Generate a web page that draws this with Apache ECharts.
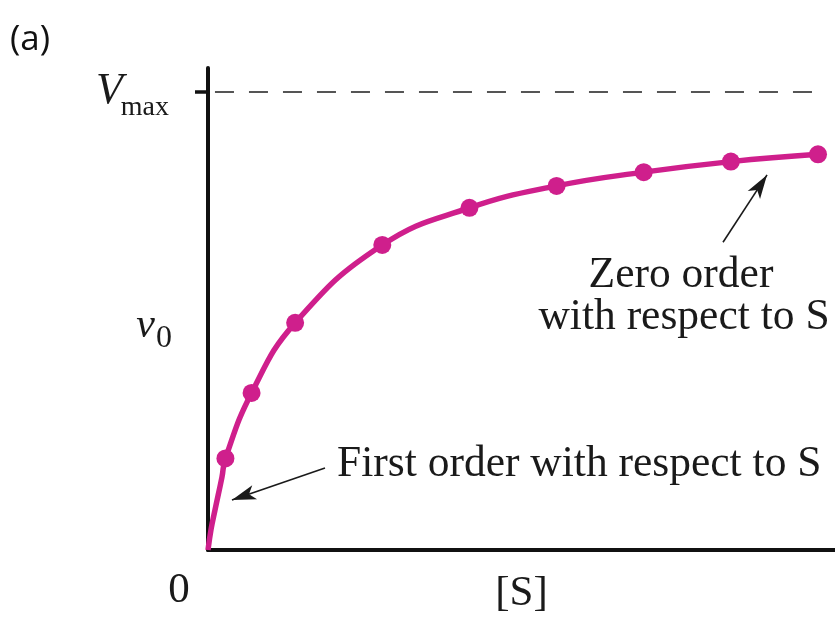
<!DOCTYPE html>
<html><head><meta charset="utf-8">
<script src="https://cdn.jsdelivr.net/npm/echarts@6/dist/echarts.min.js"></script>
<style>html,body{margin:0;padding:0;background:#fff}#c{width:835px;height:618px}</style>
</head><body><div id="c"></div>
<script>
// Data (S in arbitrary units, v as a fraction of Vmax)
const substrate = [0.4, 1, 2, 4, 6, 8, 10, 12, 14];
const velocity  = [0.200, 0.343, 0.496, 0.666, 0.747, 0.795, 0.825, 0.848, 0.864];
// extra points traced on the curve near the origin
const curveS = [0, 0.07, 0.16, 0.32];
const curveV = [0, 0.045, 0.087, 0.159];
const vmaxValue = 1;
const v0Level = 0.48;
const xLabelText = '[S]';
const originLabel = '0';
const panelLabel = '(a)';
const firstOrderText = 'First order with respect to S';
const zeroOrderLines = ['Zero order', 'with respect to S'];
// arrows (tail -> head) in data coordinates
const firstArrow = [[2.685, 0.179], [0.55, 0.109]];
const zeroArrow = [[11.82, 0.672], [12.83, 0.819]];

const SERIF = 'Liberation Serif';
const INK = '#1a1a1a';
const MAG = '#cf1f8c';

const curveData = curveS.map((s, i) => [s, curveV[i]])
  .concat(substrate.map((s, i) => [s, velocity[i]]));
const pointData = substrate.map((s, i) => [s, velocity[i]]);

const chart = echarts.init(document.getElementById('c'), null, {renderer: 'canvas'});
const option = {
  animation: false,
  backgroundColor: '#fff',
  grid: {left: 208, right: 0, top: 68, bottom: 68, containLabel: false, outerBoundsMode: 'none'},
  xAxis: {
    type: 'value', min: 0, max: 14.39,
    axisLine: {show: true, lineStyle: {color: '#111', width: 4}},
    axisTick: {show: false}, axisLabel: {show: false}, splitLine: {show: false},
    name: xLabelText, nameLocation: 'middle', nameGap: 22,
    nameTextStyle: {fontFamily: SERIF, fontSize: 43, color: INK}
  },
  yAxis: {
    type: 'value', min: 0, max: 1.0524,
    axisLine: {show: true, lineStyle: {color: '#111', width: 4}},
    axisTick: {show: true, customValues: [vmaxValue], length: 13, lineStyle: {color: '#111', width: 3.5}},
    axisLabel: {show: false}, splitLine: {show: false}
  },
  series: [
    {
      type: 'line', data: curveData, smooth: 0.45,
      symbol: 'none', lineStyle: {color: MAG, width: 5.5}, z: 3,
      markLine: {
        silent: true, animation: false,
        label: {show: false},
        data: [
          [{coord: [0.16, vmaxValue], symbol: 'none', lineStyle: {type: [19, 15], color: '#555', width: 2}},
           {coord: [14.05, vmaxValue], symbol: 'none'}],
          [{coord: firstArrow[0], symbol: 'none', lineStyle: {type: 'solid', color: INK, width: 1.6}},
           {coord: firstArrow[1], symbol: 'arrow', symbolSize: [11, 24]}],
          [{coord: zeroArrow[0], symbol: 'none', lineStyle: {type: 'solid', color: INK, width: 1.6}},
           {coord: zeroArrow[1], symbol: 'arrow', symbolSize: [11, 24]}]
        ]
      }
    },
    {
      type: 'scatter', data: pointData, symbol: 'circle', symbolSize: 18,
      itemStyle: {color: MAG, opacity: 1}, z: 4
    }
  ]
};
chart.setOption(option);

function px(x, y) { return chart.convertToPixel({gridIndex: 0}, [x, y]); }
const pV = px(0, vmaxValue);
const pv0 = px(0, v0Level);
const pO = px(0, 0);
const t = (text, x, y, size, opts) => Object.assign({
  type: 'text', x: x, y: y,
  style: Object.assign({text: text, fontFamily: SERIF, fontSize: size, fill: INK,
    align: 'left', verticalAlign: 'middle'}, opts || {})
});
chart.setOption({
  graphic: [
    t(panelLabel, 10, 40, 35, {fontFamily: 'Open Sans', fill: '#111'}),
    t('V', 123, pV[1] - 1, 44, {fontStyle: 'italic', align: 'right'}),
    t('max', 169, pV[1] + 16, 28, {align: 'right'}),
    t('v', 155, pv0[1] - 4, 42, {fontStyle: 'italic', align: 'right'}),
    t('0', 172, pv0[1] + 8, 32, {align: 'right'}),
    t(originLabel, pO[0] - 29, pO[1] + 41, 43, {align: 'center'}),
    t(firstOrderText, 337, 465, 43.5),
    t(zeroOrderLines[0], 681, 276, 43.5, {align: 'center'}),
    t(zeroOrderLines[1], 684, 318, 43.5, {align: 'center'})
  ]
});
</script></body></html>
